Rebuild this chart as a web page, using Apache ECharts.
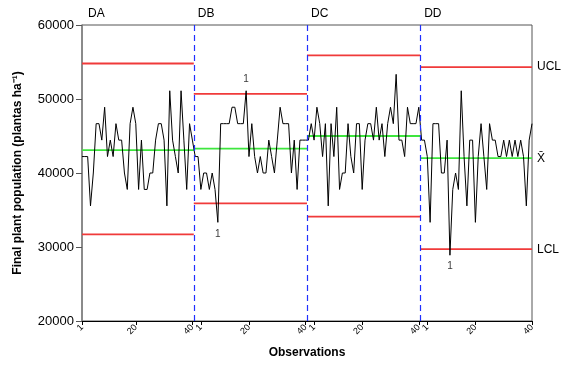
<!DOCTYPE html>
<html>
<head>
<meta charset="utf-8">
<script src="https://cdn.jsdelivr.net/npm/echarts@6/dist/echarts.min.js"></script>
<style>
  html, body { margin: 0; padding: 0; background: #fff; }
  #chart { width: 561px; height: 365px; }
</style>
</head>
<body>
<div id="chart"></div>
<script>
// stage names and observations (plants per ha), 40 per stage
const stageNames = ['DA', 'DB', 'DC', 'DD']
const obsDA = [42222, 42222, 42222, 35556, 40000, 46667, 46667, 44444, 48889, 42222,
               44444, 42222, 46667, 44444, 44444, 40000, 37778, 46667, 48889, 46667,
               37778, 44444, 37778, 37778, 40000, 40000, 44444, 46667, 46667, 44444,
               35556, 51111, 44444, 42222, 40000, 51111, 44444, 37778, 46667, 44444]
const obsDB = [42222, 42222, 37778, 40000, 40000, 37778, 40000, 37778, 33333, 46667,
               46667, 46667, 46667, 48889, 48889, 46667, 46667, 46667, 51111, 42222,
               46667, 42222, 40000, 42222, 40000, 40000, 44444, 42222, 40000, 44444,
               48889, 46667, 46667, 46667, 40000, 44444, 37778, 44444, 44444, 44444]
const obsDC = [44444, 46667, 44444, 48889, 46667, 42222, 46667, 35556, 46667, 42222,
               48889, 37778, 40000, 40000, 46667, 42222, 40000, 46667, 46667, 37778,
               44444, 46667, 46667, 44444, 48889, 44444, 46667, 42222, 46667, 48889,
               46667, 53333, 44444, 44444, 42222, 48889, 46667, 46667, 46667, 48889]
const obsDD = [44444, 44444, 42222, 33333, 46667, 46667, 46667, 40000, 40000, 44444,
               28889, 37778, 40000, 37778, 51111, 42222, 35556, 44444, 44444, 33333,
               42222, 46667, 42222, 37778, 46667, 44444, 44444, 42222, 42222, 44444,
               42222, 44444, 42222, 44444, 42222, 44444, 42222, 35556, 44444, 46667]

// control limits per stage
const ucl = [54800, 50700, 55900, 54300]
const centre = [43100, 43300, 45000, 42000]
const lcl = [31700, 35900, 34100, 29700]

// x tick positions and their labels
const tickValues = [1, 20, 40, 43, 60, 80, 83, 100, 120, 123, 140, 160]
const tickLabels = ['1', '20', '40', '1', '20', '40', '1', '20', '40', '1', '20', '40']

const allObs = obsDA.concat(obsDB, obsDC, obsDD)
const perStage = obsDA.length
const nObs = allObs.length
const points = allObs.map((v, i) => [i + 1, v])

// stage boundaries on the x axis
const bounds = [1]
for (let k = 1; k < stageNames.length; k++) bounds.push(k * perStage + 0.5)
bounds.push(nObs)

const font = 'Arial, "Liberation Sans", sans-serif'

const limitSeries = (vals, color, tag) => vals.map((v, k) => ({
    type: 'line',
    data: [[bounds[k], v], [bounds[k + 1], v]],
    symbol: 'none',
    silent: true,
    z: 2,
    color: color,
    lineStyle: { color: color, width: 1.8 },
    endLabel: {
        show: k === vals.length - 1, formatter: tag, color: '#000', fontSize: 12,
        fontFamily: font, distance: 5
    }
}))

// points out of control get a "1"
const flags = []
allObs.forEach((v, i) => {
    const k = Math.floor(i / perStage)
    if (v > ucl[k] || v < lcl[k]) {
        flags.push({
            value: [i + 1, v],
            label: { position: v > ucl[k] ? 'top' : 'bottom' }
        })
    }
})

const chart = echarts.init(document.getElementById('chart'), null, { renderer: 'canvas' })

const option = {
    animation: false,
    backgroundColor: '#fff',
    textStyle: { fontFamily: font },
    grid: {
        left: 82, right: 29, top: 25, bottom: 44,
        show: true, borderColor: '#555', borderWidth: 1
    },
    xAxis: {
        type: 'value',
        min: 1,
        max: nObs,
        name: 'Observations',
        nameLocation: 'middle',
        nameGap: 26,
        nameTextStyle: { fontWeight: 'bold', fontSize: 12, color: '#000', fontFamily: font },
        axisLine: { lineStyle: { color: '#000', width: 1 } },
        axisTick: { show: true, length: 4, customValues: tickValues, lineStyle: { color: '#000' } },
        axisLabel: {
            customValues: tickValues,
            rotate: 45,
            fontSize: 9,
            color: '#000',
            margin: 5,
            formatter: v => tickLabels[tickValues.indexOf(v)]
        },
        splitLine: { show: false }
    },
    yAxis: {
        type: 'value',
        min: 20000,
        max: 60000,
        interval: 10000,
        name: 'Final plant population (plantas ha\u207B\u00B9)',
        nameLocation: 'middle',
        nameGap: 58,
        nameTextStyle: { fontWeight: 'bold', fontSize: 12, color: '#000', fontFamily: font },
        axisLine: { show: true, lineStyle: { color: '#808080', width: 1.5 } },
        axisTick: { show: true, length: 6, lineStyle: { color: '#555' } },
        axisLabel: { fontSize: 13, color: '#000', margin: 8, formatter: v => String(v) },
        splitLine: { show: false }
    },
    series: [
        {
            type: 'line',
            data: points,
            symbol: 'none',
            z: 3,
            color: '#000',
            lineStyle: { color: '#000', width: 1 },
            markLine: {
                silent: true,
                symbol: 'none',
                label: { show: false },
                lineStyle: { color: '#2030ff', type: [6, 4], width: 1.2 },
                data: bounds.slice(1, -1).map(b => ({ xAxis: b }))
            }
        },
        ...limitSeries(ucl, '#f03a3a', 'UCL'),
        ...limitSeries(lcl, '#f03a3a', 'LCL'),
        ...limitSeries(centre, '#3ee63e', 'X\u0304'),
        {
            type: 'scatter',
            data: flags,
            symbolSize: 1,
            itemStyle: { color: 'rgba(0,0,0,0)' },
            z: 4,
            label: {
                show: true, formatter: '1', fontSize: 10, color: '#000',
                distance: 6
            }
        }
    ]
}
chart.setOption(option)

// stage names above the plot, just right of each stage start
const stageLabels = stageNames.map((name, k) => {
    const p = chart.convertToPixel({ gridIndex: 0 }, [bounds[k], 60000])
    return {
        type: 'text',
        left: p[0] + (k === 0 ? 6 : 4),
        top: p[1] - 17,
        style: { text: name, fontSize: 12, fontFamily: font, fill: '#000' }
    }
})
chart.setOption({ graphic: stageLabels })
</script>
</body>
</html>
